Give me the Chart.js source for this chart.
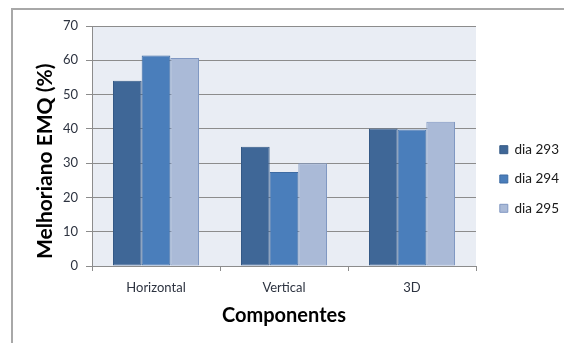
<!DOCTYPE html>
<html>
<head>
<meta charset="utf-8">
<script src="https://cdn.jsdelivr.net/npm/chart.js@4/dist/chart.umd.min.js"></script>
<style>
  html, body { margin: 0; padding: 0; background: #ffffff; }
  #wrap { position: relative; width: 564px; height: 343px; overflow: hidden; }
  #frame { position: absolute; left: 11px; top: 8px; width: 600px; height: 400px;
           border-left: 2px solid #a8a8a8; border-top: 2px solid #a8a8a8; }
  #c { position: absolute; left: 0; top: 0; }
</style>
</head>
<body>
<div id="wrap">
  <div id="frame"></div>
  <canvas id="c" width="564" height="343"></canvas>
</div>
<script>
// Categories and series
const categories = ['Horizontal', 'Vertical', '3D'];
const seriesNames = ['dia 293', 'dia 294', 'dia 295'];
const dia293 = [54.0, 34.8, 40.1];
const dia294 = [61.4, 27.4, 39.8];
const dia295 = [60.7, 30.0, 42.1];
const yTicks = [0, 10, 20, 30, 40, 50, 60, 70];

const fills = ['#3f6797', '#4a7ebb', '#aabad7'];
const borders = ['#355a86', '#3d6ba3', '#8198c2'];
const values = [dia293, dia294, dia295];

const FONT = 'Lato, "Open Sans", sans-serif';
const GRID = '#8c8c8c';

// Paints the light plot background behind the bars
const plotBackground = {
  id: 'plotBackground',
  beforeDraw(chart) {
    const a = chart.chartArea, ctx = chart.ctx;
    ctx.save();
    ctx.fillStyle = '#e9edf4';
    ctx.fillRect(a.left, a.top, a.right - a.left, a.bottom - a.top);
    ctx.restore();
  }
};

new Chart(document.getElementById('c'), {
  type: 'bar',
  data: {
    labels: categories,
    datasets: seriesNames.map((name, i) => ({
      label: name,
      data: values[i],
      backgroundColor: fills[i],
      borderColor: borders[i],
      borderWidth: 1,
      borderSkipped: false,
      categoryPercentage: 0.672,
      barPercentage: 1.0
    }))
  },
  options: {
    responsive: false,
    animation: false,
    devicePixelRatio: 1,
    layout: { padding: { top: 26, left: 22, right: 0, bottom: 11 } },
    plugins: {
      tooltip: { enabled: false },
      legend: {
        position: 'right',
        align: 'center',
        maxWidth: 80,
        labels: {
          boxWidth: 8,
          boxHeight: 8,
          padding: 15.8,
          color: '#1a1a1a',
          font: { family: FONT, size: 13.5 }
        }
      }
    },
    scales: {
      x: {
        grid: { display: true, drawOnChartArea: false, drawTicks: true, tickLength: 5, color: GRID, offset: true },
        border: { display: true, color: GRID, width: 1 },
        ticks: { color: '#2d3340', padding: 9, font: { family: FONT, size: 13 } },
        title: {
          display: true, text: 'Componentes', color: '#000000',
          font: { family: FONT, size: 20, weight: 'bold' },
          padding: { top: 0, bottom: 4 }
        },
        afterFit(s) { s.height = 66; }
      },
      y: {
        min: 0, max: 70,
        afterBuildTicks(s) { s.ticks = yTicks.map(v => ({ value: v })); },
        grid: { color: GRID, tickLength: 6, drawTicks: true },
        border: { display: true, color: GRID, width: 1 },
        ticks: { color: '#2d3340', padding: 8, font: { family: FONT, size: 13 } },
        title: {
          display: true, text: 'Melhoriano EMQ (%)      ', color: '#000000',
          font: { family: FONT, size: 21, weight: 'bold' },
          padding: { top: 11, bottom: 0 }
        },
        afterFit(s) { s.width = 70; }
      },
      gap: {
        position: 'right',
        display: true,
        grid: { display: false },
        border: { display: false },
        ticks: { display: false },
        afterFit(s) { s.width = 8; }
      }
    }
  },
  plugins: [plotBackground]
});
</script>
</body>
</html>
